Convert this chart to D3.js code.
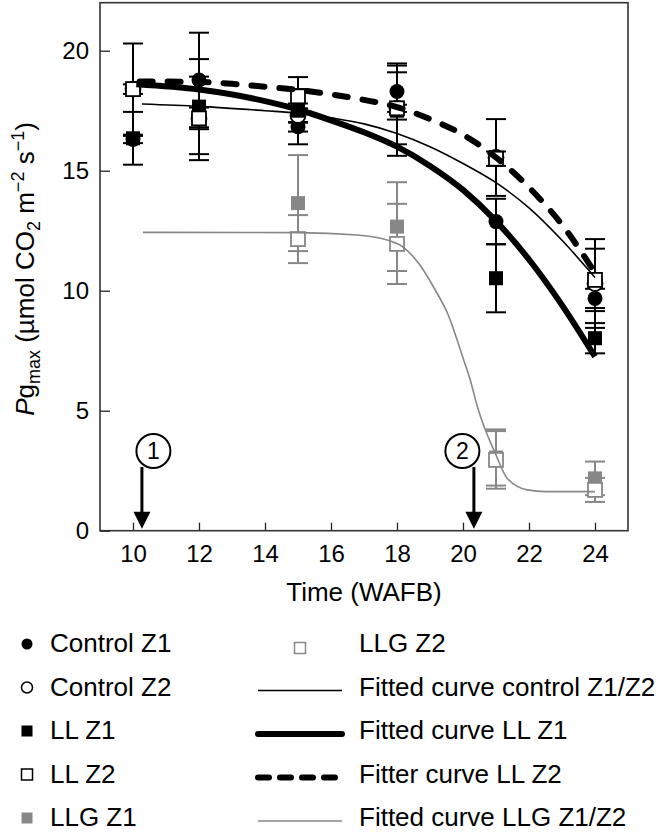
<!DOCTYPE html>
<html><head><meta charset="utf-8">
<script src="https://cdn.jsdelivr.net/npm/d3@7"></script>
<style>
body{margin:0;background:#fff}
svg{display:block;font-family:"Liberation Sans",Arial,Helvetica,sans-serif}
</style>
</head><body>
<svg id="chart" width="664" height="834"></svg>
<script>
// ---------- data ----------
const weeks = [10, 12, 15, 18, 21, 24];
const llgWeeks = [15, 18, 21, 24];

const controlZ1 = [16.3, 18.78, 16.83, 18.3, 12.88, 9.68];
const controlZ1Err = [0.15, 1.97, 0.2, 1.17, 0.95, 0.4];
const controlZ2 = [18.4, 17.18, 17.3, 17.6, 15.55, 10.3];
const controlZ2Err = [1.9, 1.74, 0.3, 1.5, 1.6, 1.85];
const llZ1 = [16.35, 17.67, 17.5, 17.5, 10.52, 8.02];
const llZ1Err = [1.1, 1.98, 1.4, 1.88, 1.42, 0.63];
const llZ2 = [18.4, 17.18, 18.1, 17.6, 15.5, 10.45];
const llZ2Err = [0.2, 0.45, 0.3, 0.15, 0.3, 1.3];
const llgZ1 = [13.65, 12.67, 3.05, 2.18];
const llgZ1Err = [2.0, 1.85, 1.17, 0.7];
const llgZ2 = [12.15, 11.95, 2.95, 1.7];
const llgZ2Err = [1.0, 1.67, 1.2, 0.5];

// fitted curves
const fitControlX = [10.27, 12, 14, 15, 16, 17, 18, 19, 20, 21, 22, 23, 24];
const fitControlY = [17.78, 17.68, 17.5, 17.4, 17.2, 16.95, 16.55, 16.0, 15.3, 14.5, 13.45, 12.1, 10.55];
const fitLLZ1X = [10.1, 12, 14, 15, 16, 17, 18, 19, 20, 21, 22, 23, 24];
const fitLLZ1Y = [18.6, 18.38, 17.9, 17.55, 17.1, 16.6, 16.0, 15.2, 14.2, 12.9, 11.3, 9.4, 7.25];
const fitLLZ2X = [10.2, 12, 13, 14, 15, 16, 17, 18, 19, 20, 21, 22, 23, 24];
const fitLLZ2Y = [18.72, 18.7, 18.62, 18.5, 18.37, 18.18, 17.95, 17.65, 17.15, 16.5, 15.55, 14.3, 12.75, 10.75];
const fitLLGX = [10.3, 15, 16.8, 18, 18.65, 19.15, 19.55, 20.0, 20.22, 20.45, 20.65, 20.98, 21.33, 21.95, 22.5, 24];
const fitLLGY = [12.43, 12.42, 12.32, 11.97, 11.15, 10.05, 9.0, 7.2, 6.28, 5.1, 4.3, 3.22, 2.2, 1.7, 1.63, 1.63];

const xTicks = [10, 12, 14, 16, 18, 20, 22, 24];
const yTicks = [0, 5, 10, 15, 20];
const arrowWeeks = [10.27, 20.33];
const arrowLabels = ["1", "2"];

const legendLeft = ["Control Z1", "Control Z2", "LL Z1", "LL Z2", "LLG Z1"];
const legendRight = ["LLG Z2", "Fitted curve control Z1/Z2", "Fitted curve LL Z1", "Fitter curve LL Z2", "Fitted curve LLG Z1/Z2"];

// ---------- chart ----------
const GRAY = "#878787";
const svg = d3.select("#chart");
const x = d3.scaleLinear().domain([9, 25]).range([100, 628]);
const y = d3.scaleLinear().domain([0, 22]).range([530.7, 2.7]);

// axes
const gx = svg.append("g").attr("transform", `translate(0,${y(0)})`)
  .call(d3.axisBottom(x).tickValues(xTicks).tickSize(-8).tickPadding(14).tickFormat(d3.format("d")));
const gy = svg.append("g").attr("transform", `translate(${x(9)},0)`)
  .call(d3.axisLeft(y).tickValues(yTicks).tickSize(-10).tickPadding(11).tickFormat(d3.format("d")));
[gx, gy].forEach(g => {
  g.select(".domain").remove();
  g.selectAll(".tick line").attr("stroke", "#222").attr("stroke-width", 1.3);
  g.selectAll(".tick text").attr("font-size", 24).attr("fill", "#000")
    .attr("font-family", '"Liberation Sans",Arial,sans-serif');
});

// frame
svg.append("rect").attr("x", x(9)).attr("y", y(22)).attr("width", x(25) - x(9)).attr("height", y(0) - y(22))
  .attr("fill", "none").attr("stroke", "#333").attr("stroke-width", 1.6);

// axis titles
svg.append("text").attr("x", (x(9) + x(25)) / 2).attr("y", 601).attr("text-anchor", "middle")
  .attr("font-size", 26).text("Time (WAFB)");

const yl = svg.append("text").attr("transform", "translate(34,269) rotate(-90)")
  .attr("text-anchor", "middle").attr("font-size", 26);
yl.append("tspan").attr("font-style", "italic").text("P");
yl.append("tspan").text("g");
yl.append("tspan").attr("font-size", 18).attr("dy", 6).text("max");
yl.append("tspan").attr("dy", -6).text(" (µmol CO");
yl.append("tspan").attr("font-size", 18).attr("dy", 6).text("2");
yl.append("tspan").attr("dy", -6).text(" m");
yl.append("tspan").attr("font-size", 18).attr("dy", -10).text("−2");
yl.append("tspan").attr("dy", 10).text(" s");
yl.append("tspan").attr("font-size", 18).attr("dy", -10).text("−1");
yl.append("tspan").attr("dy", 10).text(")");

// series definitions
const series = [
  {xs: weeks, v: controlZ1, e: controlZ1Err, shape: "circle", fill: "#000", stroke: "#000", bar: "#000"},
  {xs: weeks, v: controlZ2, e: controlZ2Err, shape: "circle", fill: "#fff", stroke: "#000", bar: "#000"},
  {xs: weeks, v: llZ1, e: llZ1Err, shape: "square", fill: "#000", stroke: "#000", bar: "#000"},
  {xs: weeks, v: llZ2, e: llZ2Err, shape: "square", fill: "#fff", stroke: "#000", bar: "#000"},
  {xs: llgWeeks, v: llgZ1, e: llgZ1Err, shape: "square", fill: GRAY, stroke: GRAY, bar: GRAY},
  {xs: llgWeeks, v: llgZ2, e: llgZ2Err, shape: "square", fill: "#fff", stroke: GRAY, bar: GRAY}
];

// error bars
const eb = svg.append("g");
series.forEach(s => {
  s.xs.forEach((wk, i) => {
    const cx = x(wk), top = y(s.v[i] + s.e[i]), bot = y(s.v[i] - s.e[i]);
    eb.append("line").attr("x1", cx).attr("x2", cx).attr("y1", top).attr("y2", bot)
      .attr("stroke", s.bar).attr("stroke-width", 2);
    [top, bot].forEach(yy => eb.append("line").attr("x1", cx - 10).attr("x2", cx + 10)
      .attr("y1", yy).attr("y2", yy).attr("stroke", s.bar).attr("stroke-width", 2));
  });
});

// markers
function marker(g, shape, cx, cy, size, fill, stroke, sw) {
  if (shape === "circle") {
    g.append("circle").attr("cx", cx).attr("cy", cy).attr("r", size / 2)
      .attr("fill", fill).attr("stroke", stroke).attr("stroke-width", sw);
  } else {
    g.append("rect").attr("x", cx - size / 2).attr("y", cy - size / 2).attr("width", size).attr("height", size)
      .attr("fill", fill).attr("stroke", stroke).attr("stroke-width", sw);
  }
}
const mk = svg.append("g");
series.forEach(s => {
  s.xs.forEach((wk, i) => {
    const filled = s.fill !== "#fff";
    marker(mk, s.shape, x(wk), y(s.v[i]), s.shape === "circle" ? 15 : 14, s.fill, s.stroke, filled ? 0 : 1.8);
  });
});

// curves
const line = d3.line().x(d => x(d[0])).y(d => y(d[1])).curve(d3.curveMonotoneX);
const zip = (a, b) => a.map((v, i) => [v, b[i]]);
svg.append("path").attr("d", line(zip(fitLLGX, fitLLGY))).attr("fill", "none").attr("stroke", GRAY).attr("stroke-width", 1.6);
svg.append("path").attr("d", line(zip(fitControlX, fitControlY))).attr("fill", "none").attr("stroke", "#000").attr("stroke-width", 1.6);
svg.append("path").attr("d", line(zip(fitLLZ1X, fitLLZ1Y))).attr("fill", "none").attr("stroke", "#000").attr("stroke-width", 6);
svg.append("path").attr("d", line(zip(fitLLZ2X, fitLLZ2Y))).attr("fill", "none").attr("stroke", "#000").attr("stroke-width", 6)
  .attr("stroke-dasharray", "13 15").attr("stroke-linecap", "round");

// arrows
const offsets = [11.5, -11.5];
arrowWeeks.forEach((wk, i) => {
  const ax = x(wk), cx = ax + offsets[i], cy = 451, r = 17;
  svg.append("circle").attr("cx", cx).attr("cy", cy).attr("r", r).attr("fill", "#fff")
    .attr("stroke", "#000").attr("stroke-width", 2);
  svg.append("text").attr("x", cx).attr("y", cy).attr("dy", "0.36em").attr("text-anchor", "middle")
    .attr("font-size", 23).text(arrowLabels[i]);
  const tip = y(0) - 2;
  svg.append("line").attr("x1", ax).attr("x2", ax).attr("y1", cy + r - 1).attr("y2", tip - 14)
    .attr("stroke", "#000").attr("stroke-width", 3);
  svg.append("path").attr("d", `M${ax - 8.5},${tip - 17}L${ax + 8.5},${tip - 17}L${ax},${tip}Z`).attr("fill", "#000");
});

// legend
const lg = svg.append("g").attr("font-size", 26);
const base = i => 652 + 43.5 * i;
const leftStyles = series.slice(0, 5);
legendLeft.forEach((t, i) => {
  const s = leftStyles[i], filled = s.fill !== "#fff";
  marker(lg, s.shape, 27, base(i) - 8, 11, s.fill, s.stroke, filled ? 0 : 1.5);
  lg.append("text").attr("x", 50).attr("y", base(i)).text(t);
});
legendRight.forEach((t, i) => {
  const yy = base(i) - 5;
  if (i === 0) {
    marker(lg, "square", 300, base(i) - 4, 11, "#fff", GRAY, 1.5);
  } else {
    const p = lg.append("line").attr("x1", 258).attr("x2", 342).attr("y1", yy).attr("y2", yy).attr("fill", "none");
    if (i === 1) p.attr("stroke", "#000").attr("stroke-width", 1.6);
    if (i === 2) p.attr("stroke", "#000").attr("stroke-width", 6).attr("stroke-linecap", "round");
    if (i === 3) p.attr("stroke", "#000").attr("stroke-width", 6).attr("stroke-linecap", "round").attr("stroke-dasharray", "11 11");
    if (i === 4) p.attr("stroke", GRAY).attr("stroke-width", 1.6);
  }
  lg.append("text").attr("x", 359).attr("y", base(i)).text(t);
});
</script>
</body></html>
